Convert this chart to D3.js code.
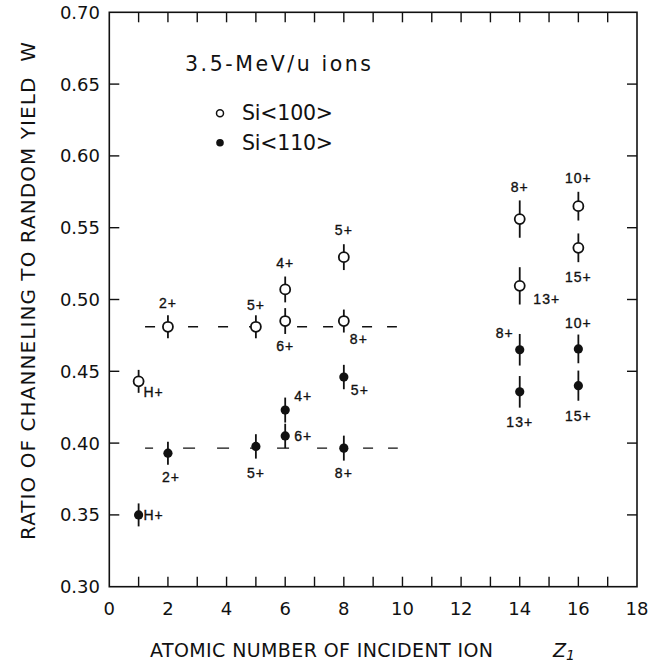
<!DOCTYPE html>
<html>
<head>
<meta charset="utf-8">
<script src="https://cdn.jsdelivr.net/npm/d3@7"></script>
<style>
  body { margin: 0; background: #fff; }
  svg { display: block; }
  text { font-family: "DejaVu Sans", "Liberation Sans", Arial, sans-serif; fill: #111; }
  .pt-label { font-family: "Liberation Sans", Arial, sans-serif; font-size: 14px; letter-spacing: 1px; stroke: #111; stroke-width: 0.35px; }
</style>
</head>
<body>
<svg id="chart" width="661" height="666"></svg>
<script>
// Z1 values and ratio W for Si<100> (open) and Si<110> (filled)
var z100 = [1, 2, 5, 6, 6, 8, 8, 14, 14, 16, 16];
var w100 = [0.443, 0.481, 0.481, 0.507, 0.485, 0.5295, 0.485, 0.556, 0.5095, 0.565, 0.536];
var err100 = [0.008, 0.008, 0.008, 0.009, 0.009, 0.009, 0.008, 0.013, 0.013, 0.010, 0.010];
var lab100 = ["H+", "2+", "5+", "4+", "6+", "5+", "8+", "8+", "13+", "10+", "15+"];

var z110 = [1, 2, 5, 6, 6, 8, 8, 14, 14, 16, 16];
var w110 = [0.350, 0.393, 0.3977, 0.423, 0.405, 0.446, 0.3965, 0.465, 0.4357, 0.4656, 0.440];
var err110 = [0.008, 0.008, 0.0085, 0.0087, 0.0085, 0.0085, 0.0087, 0.011, 0.011, 0.010, 0.0105];
var lab110 = ["H+", "2+", "5+", "4+", "6+", "5+", "8+", "8+", "13+", "10+", "15+"];

// dashed reference levels
var level100 = 0.481, level100Z = [1.22, 9.81];
var level110 = 0.3965, level110Z = [1.22, 9.84];

var xTicks = d3.range(0, 19, 2);
var yTicks = d3.range(0.30, 0.701, 0.05);

// label placement (offset of text centre from the point, px)
var off100 = [[15, 11], [0, -24], [0, -22], [0, -26], [0, 25], [0, -27], [15, 18], [0, -32], [27, 13], [0, -28], [0, 29]];
var off110 = [[15, 0], [3, 24], [0, 27], [18, -14], [18, 0], [16, 13], [0, 25], [-15, -17], [0, 30], [0, -26], [0, 30]];

// hand-drawn dash rhythm of the two levels
var dash100 = "10,33,10,20,10,21,10,38,10,16,10,29,10,15,10";
var dash110 = "8,30,12,22,12,21,10,17,12,28,10,36,10,15,10";

var svg = d3.select("#chart");
var x = d3.scaleLinear().domain([0, 18]).range([109.3, 637]);
var y = d3.scaleLinear().domain([0.30, 0.70]).range([586.7, 12.3]);
var xl = x(0), xr = x(18), yt = y(0.70), yb = y(0.30);

// frame
svg.append("rect")
    .attr("x", xl).attr("y", yt)
    .attr("width", xr - xl).attr("height", yb - yt)
    .attr("fill", "none").attr("stroke", "#111").attr("stroke-width", 1.6);

// inward ticks on all four sides
var tk = 10;
var g = svg.append("g").attr("stroke", "#111").attr("stroke-width", 1.4);
d3.range(1, 18).forEach(function(v) {
    g.append("line").attr("x1", x(v)).attr("x2", x(v)).attr("y1", yb).attr("y2", yb - tk);
    g.append("line").attr("x1", x(v)).attr("x2", x(v)).attr("y1", yt).attr("y2", yt + tk);
});
yTicks.slice(1, -1).forEach(function(v) {
    g.append("line").attr("x1", xl).attr("x2", xl + tk).attr("y1", y(v)).attr("y2", y(v));
    g.append("line").attr("x1", xr).attr("x2", xr - tk).attr("y1", y(v)).attr("y2", y(v));
});

// tick labels
svg.append("g").selectAll("text").data(xTicks).join("text")
    .attr("x", d => x(d)).attr("y", 608)
    .attr("text-anchor", "middle").attr("dominant-baseline", "central")
    .style("font-size", "18px")
    .text(d => d);
svg.append("g").selectAll("text").data(yTicks).join("text")
    .attr("x", 100).attr("y", d => y(d))
    .attr("text-anchor", "end").attr("dominant-baseline", "central")
    .style("font-size", "18px")
    .text(d => d3.format(".2f")(d));

// axis titles
svg.append("text")
    .attr("transform", "translate(28,291) rotate(-90)")
    .attr("text-anchor", "middle").attr("dominant-baseline", "central")
    .attr("textLength", 498).attr("lengthAdjust", "spacing")
    .style("font-size", "20px")
    .text("RATIO OF CHANNELING TO RANDOM YIELD \u00a0W");
var xt = svg.append("text")
    .attr("x", 150).attr("y", 650)
    .attr("dominant-baseline", "central")
    .style("font-size", "19px");
xt.append("tspan").attr("textLength", 343).attr("lengthAdjust", "spacing")
    .text("ATOMIC NUMBER OF INCIDENT ION");
xt.append("tspan").attr("x", 553).style("font-style", "italic").text("Z");
xt.append("tspan").attr("dy", 5).style("font-style", "italic").style("font-size", "14px").text("1");

// legend
svg.append("text").attr("x", 185).attr("y", 64).attr("dominant-baseline", "central")
    .attr("textLength", 186).attr("lengthAdjust", "spacing")
    .style("font-size", "20.5px").text("3.5-MeV/u ions");
svg.append("circle").attr("cx", 220).attr("cy", 113.3).attr("r", 3.5)
    .attr("fill", "#fff").attr("stroke", "#111").attr("stroke-width", 1.5);
svg.append("circle").attr("cx", 220).attr("cy", 142.7).attr("r", 3.8).attr("fill", "#111");
svg.append("text").attr("x", 242).attr("y", 113.3).attr("dominant-baseline", "central")
    .attr("textLength", 91).attr("lengthAdjust", "spacing")
    .style("font-size", "20.5px").text("Si<100>");
svg.append("text").attr("x", 242).attr("y", 142.7).attr("dominant-baseline", "central")
    .attr("textLength", 91).attr("lengthAdjust", "spacing")
    .style("font-size", "20.5px").text("Si<110>");

// dashed levels
svg.append("line")
    .attr("x1", x(level100Z[0])).attr("x2", x(level100Z[1]))
    .attr("y1", y(level100)).attr("y2", y(level100))
    .attr("stroke", "#111").attr("stroke-width", 1.4).attr("stroke-dasharray", dash100);
svg.append("line")
    .attr("x1", x(level110Z[0])).attr("x2", x(level110Z[1]))
    .attr("y1", y(level110)).attr("y2", y(level110))
    .attr("stroke", "#111").attr("stroke-width", 1.4).attr("stroke-dasharray", dash110);

function drawSeries(zs, ws, errs, labs, offs, filled) {
    var grp = svg.append("g");
    zs.forEach(function(z, i) {
        var cx = x(z), cy = y(ws[i]);
        grp.append("line")
            .attr("x1", cx).attr("x2", cx)
            .attr("y1", y(ws[i] + errs[i])).attr("y2", y(ws[i] - errs[i]))
            .attr("stroke", "#111").attr("stroke-width", 1.8);
        grp.append("circle")
            .attr("cx", cx).attr("cy", cy)
            .attr("r", filled ? 4.6 : 5)
            .attr("fill", filled ? "#111" : "#fff")
            .attr("stroke", "#111").attr("stroke-width", filled ? 0 : 1.8);
        grp.append("text")
            .attr("class", "pt-label")
            .attr("x", cx + offs[i][0]).attr("y", cy + offs[i][1])
            .attr("text-anchor", "middle").attr("dominant-baseline", "central")
            .text(labs[i]);
    });
}
drawSeries(z100, w100, err100, lab100, off100, false);
drawSeries(z110, w110, err110, lab110, off110, true);
</script>
</body>
</html>
